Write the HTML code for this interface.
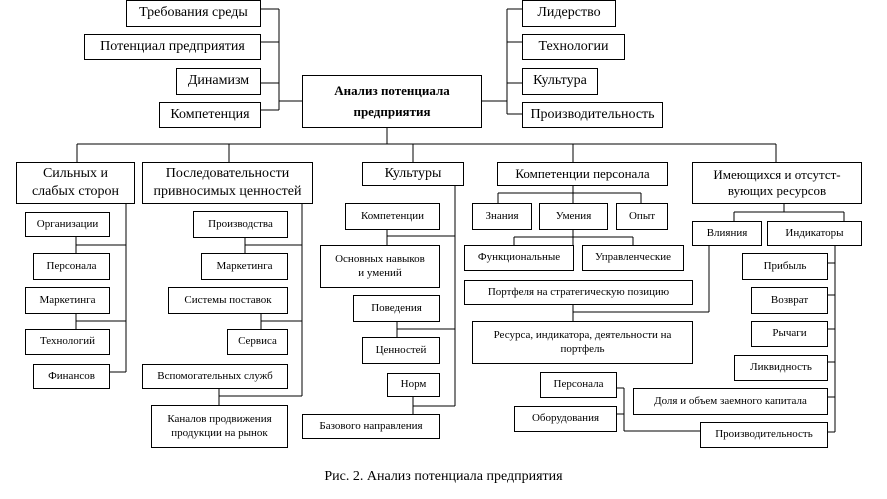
<!DOCTYPE html>
<html><head><meta charset="utf-8">
<style>
html,body{margin:0;padding:0;background:#fff;}
#c{position:relative;width:887px;height:499px;overflow:hidden;font-family:"Liberation Serif","DejaVu Serif",serif;color:#000;}
.b{position:absolute;box-sizing:border-box;border:1px solid #000;background:#fff;display:flex;align-items:center;justify-content:center;text-align:center;line-height:1.25;font-size:11px;}
.L{font-size:14px;line-height:1.3;}
.M{font-size:13px;}
svg{position:absolute;left:0;top:0;}
</style></head><body><div id="c">
<svg width="887" height="499" stroke="#000" stroke-width="1" fill="none" shape-rendering="crispEdges">
<path d="M260 9H279M260 42H279M260 83H279M260 110H279M279 9V110M279 101H303"/>
<path d="M481 101H507M507 9V114M507 9H522M507 42H522M507 83H522M507 114H522"/>
<path d="M387 127V144M77 144H776M77 144V162M229 144V162M413 144V162M573 144V162M776 144V162"/>
<path d="M126 203V372M76 236V253M76 245H126M76 313V329M76 321H126M109 372H126"/>
<path d="M302 203V396M245 237V253M245 245H302M261 313V329M261 321H302M219 388V405M219 396H302"/>
<path d="M455 185V406M387 229V245M387 236H455M397 321V337M397 329H455M413 396V414M413 406H455"/>
<path d="M573 185V203M498 193H641M498 193V203M641 193V203M573 229V245M514 237H633M514 237V245M633 237V245M573 304V321M573 312H709M709 245V312"/>
<path d="M784 203V212M734 212H844M734 212V221M844 212V221M835 245V432M827 263H835M827 295H835M827 329H835M827 362H835M827 397H835M827 432H835"/>
<path d="M616 388H624M624 388V431M616 414H624M624 431H700"/>
</svg>

<div class="b L" style="left:126px;top:0;width:135px;height:27px;">Требования среды</div>
<div class="b L" style="left:84px;top:34px;width:177px;height:26px;">Потенциал предприятия</div>
<div class="b L" style="left:176px;top:68px;width:85px;height:27px;">Динамизм</div>
<div class="b L" style="left:159px;top:102px;width:102px;height:26px;">Компетенция</div>
<div class="b" style="left:302px;top:75px;width:180px;height:53px;font-weight:bold;font-size:13px;line-height:1.6;">Анализ потенциала<br>предприятия</div>
<div class="b L" style="left:522px;top:0;width:94px;height:27px;">Лидерство</div>
<div class="b L" style="left:522px;top:34px;width:103px;height:26px;">Технологии</div>
<div class="b L" style="left:522px;top:68px;width:76px;height:27px;">Культура</div>
<div class="b L" style="left:522px;top:102px;width:141px;height:26px;">Производительность</div>

<div class="b L" style="left:16px;top:162px;width:119px;height:42px;">Сильных и<br>слабых сторон</div>
<div class="b L" style="left:142px;top:162px;width:171px;height:42px;">Последовательности<br>привносимых ценностей</div>
<div class="b L" style="left:362px;top:162px;width:102px;height:24px;">Культуры</div>
<div class="b M" style="left:497px;top:162px;width:171px;height:24px;">Компетенции персонала</div>
<div class="b M" style="left:692px;top:162px;width:170px;height:42px;">Имеющихся и отсутст-<br>вующих ресурсов</div>

<div class="b" style="left:25px;top:212px;width:85px;height:25px;">Организации</div>
<div class="b" style="left:33px;top:253px;width:77px;height:27px;">Персонала</div>
<div class="b" style="left:25px;top:287px;width:85px;height:27px;">Маркетинга</div>
<div class="b" style="left:25px;top:329px;width:85px;height:26px;">Технологий</div>
<div class="b" style="left:33px;top:364px;width:77px;height:25px;">Финансов</div>

<div class="b" style="left:193px;top:211px;width:95px;height:27px;">Производства</div>
<div class="b" style="left:201px;top:253px;width:87px;height:27px;">Маркетинга</div>
<div class="b" style="left:168px;top:287px;width:120px;height:27px;">Системы поставок</div>
<div class="b" style="left:227px;top:329px;width:61px;height:26px;">Сервиса</div>
<div class="b" style="left:142px;top:364px;width:146px;height:25px;">Вспомогательных служб</div>
<div class="b" style="left:151px;top:405px;width:137px;height:43px;">Каналов продвижения<br>продукции на рынок</div>

<div class="b" style="left:345px;top:203px;width:95px;height:27px;">Компетенции</div>
<div class="b" style="left:320px;top:245px;width:120px;height:43px;">Основных навыков<br>и умений</div>
<div class="b" style="left:353px;top:295px;width:87px;height:27px;">Поведения</div>
<div class="b" style="left:362px;top:337px;width:78px;height:27px;">Ценностей</div>
<div class="b" style="left:387px;top:373px;width:53px;height:24px;">Норм</div>
<div class="b" style="left:302px;top:414px;width:138px;height:25px;">Базового направления</div>

<div class="b" style="left:472px;top:203px;width:60px;height:27px;">Знания</div>
<div class="b" style="left:539px;top:203px;width:69px;height:27px;">Умения</div>
<div class="b" style="left:616px;top:203px;width:52px;height:27px;">Опыт</div>
<div class="b" style="left:464px;top:245px;width:110px;height:26px;">Функциональные</div>
<div class="b" style="left:582px;top:245px;width:102px;height:26px;">Управленческие</div>
<div class="b" style="left:464px;top:280px;width:229px;height:25px;">Портфеля на стратегическую позицию</div>
<div class="b" style="left:472px;top:321px;width:221px;height:43px;">Ресурса, индикатора, деятельности на<br>портфель</div>
<div class="b" style="left:540px;top:372px;width:77px;height:26px;">Персонала</div>
<div class="b" style="left:514px;top:406px;width:103px;height:26px;">Оборудования</div>

<div class="b" style="left:692px;top:221px;width:70px;height:25px;">Влияния</div>
<div class="b" style="left:767px;top:221px;width:95px;height:25px;">Индикаторы</div>
<div class="b" style="left:742px;top:253px;width:86px;height:27px;">Прибыль</div>
<div class="b" style="left:751px;top:287px;width:77px;height:27px;">Возврат</div>
<div class="b" style="left:751px;top:321px;width:77px;height:26px;">Рычаги</div>
<div class="b" style="left:734px;top:355px;width:94px;height:26px;">Ликвидность</div>
<div class="b" style="left:633px;top:388px;width:195px;height:27px;">Доля и объем заемного капитала</div>
<div class="b" style="left:700px;top:422px;width:128px;height:26px;">Производительность</div>

<div style="position:absolute;left:0;width:887px;top:469px;text-align:center;font-size:14px;">Рис. 2. Анализ потенциала предприятия</div>
</div></body></html>
